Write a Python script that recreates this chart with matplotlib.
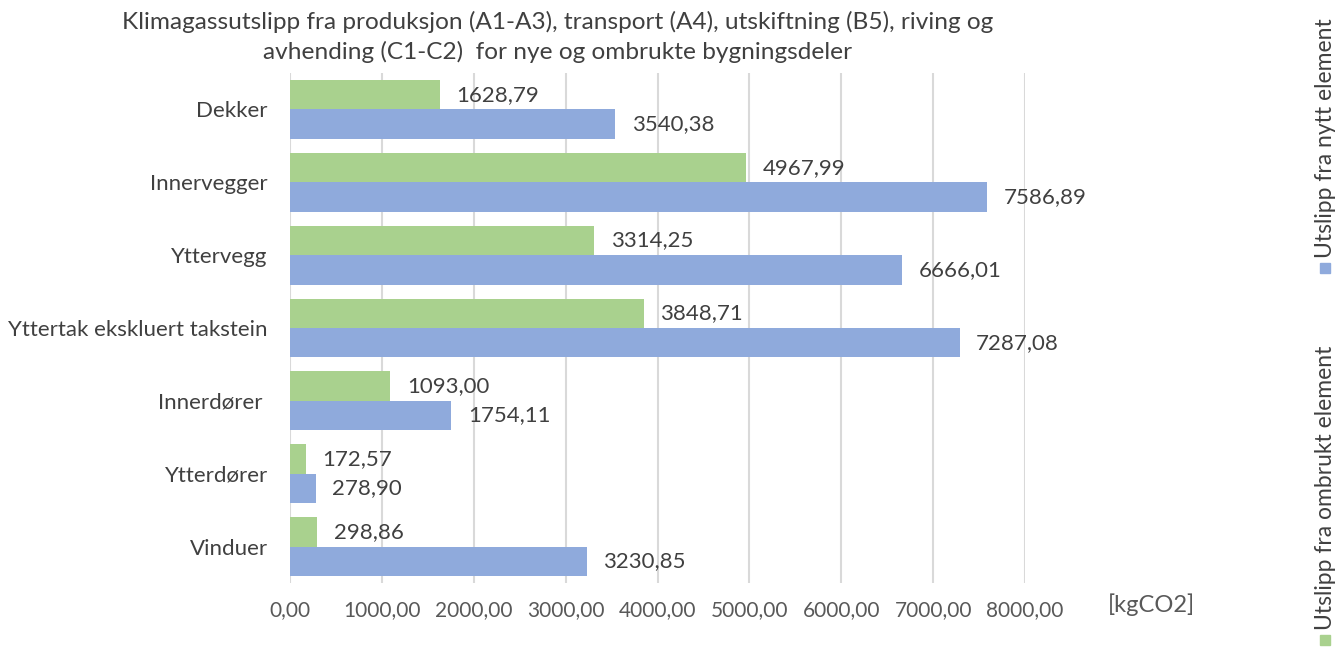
import matplotlib
matplotlib.use("Agg")
import matplotlib.pyplot as plt
import numpy as np

plt.rcParams['font.family'] = ['Lato', 'DejaVu Sans']

# data, top to bottom as in the chart
categories = ["Dekker", "Innervegger", "Yttervegg", "Yttertak ekskluert takstein",
              "Innerdører ", "Ytterdører", "Vinduer"]
ombrukt = [1628.79, 4967.99, 3314.25, 3848.71, 1093.00, 172.57, 298.86]
nytt = [3540.38, 7586.89, 6666.01, 7287.08, 1754.11, 278.90, 3230.85]
xticks = [0, 1000, 2000, 3000, 4000, 5000, 6000, 7000, 8000]

green = "#A9D18E"
blue = "#8FAADC"
txt = "#404040"

def fmt(v):
    return f"{v:.2f}".replace(".", ",")

fig = plt.figure(figsize=(13.37, 6.51), dpi=100)
ax = fig.add_axes([290/1337, 1 - 583/651, (1025 - 290)/1337, (583 - 73)/651])

y = np.arange(len(categories))
h = 0.403
ax.barh(y - h/2, ombrukt, height=h, color=green, zorder=2)
ax.barh(y + h/2, nytt, height=h, color=blue, zorder=2)

# value labels next to each bar
for yi, v in zip(y, ombrukt):
    ax.annotate(fmt(v), (v, yi - h/2), xytext=(12, 0), textcoords="offset points",
                va="center", ha="left", fontsize=16, color=txt)
for yi, v in zip(y, nytt):
    ax.annotate(fmt(v), (v, yi + h/2), xytext=(12, 0), textcoords="offset points",
                va="center", ha="left", fontsize=16, color=txt)

ax.set_xlim(0, 8000)
ax.set_ylim(len(categories) - 0.5, -0.5)
ax.set_yticks(y)
ax.set_yticklabels(categories, fontsize=16, color=txt)
ax.set_xticks(xticks)
ax.set_xticklabels([fmt(t) for t in xticks], fontsize=15, color="#595959")
ax.tick_params(axis="y", length=0, pad=16)
ax.tick_params(axis="x", length=0, pad=12)
ax.grid(axis="x", color="#D9D9D9", linewidth=1.5, zorder=0)
for s in ax.spines.values():
    s.set_visible(False)

fig.text(1108/1337, 1 - 605/651, "[kgCO2]", fontsize=17, color="#595959",
         ha="left", va="center")

fig.text(558/1337, 1 - 37/651,
         "Klimagassutslipp fra produksjon (A1-A3), transport (A4), utskiftning (B5), riving og\n"
         "avhending (C1-C2)  for nye og ombrukte bygningsdeler",
         fontsize=17.6, color=txt, ha="center", va="center", linespacing=1.45)

# vertical legend on the right side
lx = 1325/1337
fig.patches.append(plt.Rectangle((lx - 5/1337, 1 - 273/651), 10/1337, 10/651,
                                 transform=fig.transFigure, color=blue))
fig.text(lx, 1 - 258/651, "Utslipp fra nytt element", rotation=90, fontsize=16.5,
         color=txt, ha="center", va="bottom")
fig.patches.append(plt.Rectangle((lx - 5/1337, 1 - 645/651), 10/1337, 10/651,
                                 transform=fig.transFigure, color=green))
fig.text(lx, 1 - 630/651, "Utslipp fra ombrukt element", rotation=90, fontsize=16.5,
         color=txt, ha="center", va="bottom")

fig.savefig("out.png", dpi=100)
